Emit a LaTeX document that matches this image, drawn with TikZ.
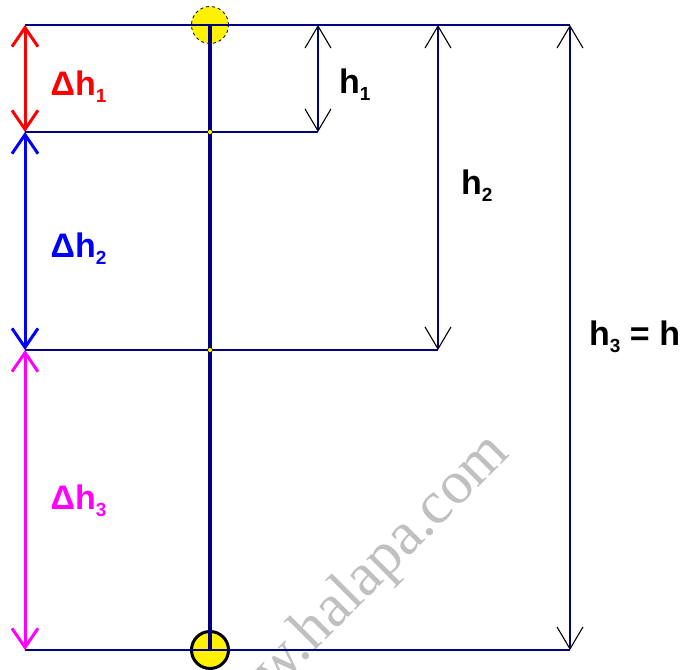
\documentclass[tikz,border=0pt]{standalone}
\usepackage{fontspec}
\setmainfont{Liberation Sans}
\newfontfamily\wmfont{Liberation Serif}
\usetikzlibrary{arrows.meta}
\definecolor{navyc}{RGB}{0,0,128}
\definecolor{magc}{RGB}{255,0,255}
\definecolor{redc}{RGB}{255,0,0}
\definecolor{bluec}{RGB}{0,0,255}
\definecolor{wmgray}{RGB}{192,192,192}
\newcommand\lbl[2]{#1\raisebox{-7pt}{\fontsize{19}{19}\selectfont #2}}
\begin{document}
\begin{tikzpicture}[x=1pt,y=-1pt,
  thinline/.style={draw=navyc,line width=1.2pt},
  dimarrow/.style={draw=navyc,line width=1.1pt,
    {Straight Barb[length=22pt,width=26pt,color=black,line width=1.1pt]}-{Straight Barb[length=22pt,width=26pt,color=black,line width=1.1pt]}},
  colarrow/.style={line width=3pt,
    {Straight Barb[length=19pt,width=26pt,line width=3pt]}-{Straight Barb[length=19pt,width=26pt,line width=3pt]}},
  pole/.style={draw=navyc,line width=3.6pt},
  ball/.style={circle,fill=yellow,inner sep=0pt},
  joint/.style={circle,fill=yellow,draw=black,line width=0.5pt,inner sep=0pt,minimum size=5pt},
  lab/.style={anchor=base west,inner sep=0pt,font=\fontsize{34}{34}\selectfont\bfseries},
  wm/.style={anchor=base west,inner sep=0pt,text=wmgray,font=\fontsize{61}{61}\selectfont\wmfont}
]
\useasboundingbox (0,0) rectangle (687,669);
\clip (0,0) rectangle (687,669);

% coordinates
\coordinate (T0) at (25,25);
\coordinate (T1) at (25,132);
\coordinate (T2) at (25,350);
\coordinate (T3) at (25,650);
\coordinate (P0) at (210,25);
\coordinate (P3) at (210,650);
\coordinate (A1t) at (318,25);
\coordinate (A1b) at (318,132);
\coordinate (A2t) at (438,25);
\coordinate (A2b) at (438,350);
\coordinate (A3t) at (570,25);
\coordinate (A3b) at (570,650);

% watermark
\node[wm,rotate=45] (wmark) at (212,754) {www.halapa.com};

% balls
\node[ball,draw=black,dashed,line width=0.8pt,minimum size=37pt] (ballT) at (P0) {};
\node[ball,draw=black,line width=3pt,minimum size=37pt] (ballB) at (P3) {};

% horizontal lines
\draw[thinline] (T0) -- (A3t);
\draw[thinline] (T1) -- (A1b);
\draw[thinline] (T2) -- (A2b);
\draw[thinline] (T3) -- (A3b);

% dimension arrows
\draw[dimarrow] (A1t) -- (A1b);
\draw[dimarrow] (A2t) -- (A2b);
\draw[dimarrow] (A3t) -- (A3b);

% coloured arrows
\draw[colarrow,redc] (T0) -- (T1);
\draw[colarrow,bluec] (T1) -- (T2);
\draw[colarrow,magc] (T2) -- (T3);

% pole
\draw[pole] (P0) -- (P3);
\node[joint] (J1) at (210,132) {};
\node[joint] (J2) at (210,350) {};

% labels
\node[lab,text=redc] (dh1) at (50.5,95) {\lbl{Δh}{1}};
\node[lab,text=bluec] (dh2) at (50.5,257) {\lbl{Δh}{2}};
\node[lab,text=magc] (dh3) at (50.5,509) {\lbl{Δh}{3}};
\node[lab] (h1) at (339,93) {\lbl{h}{1}};
\node[lab] (h2) at (461,194) {\lbl{h}{2}};
\node[lab] (h3) at (589,345) {\lbl{h}{3} = h};
\end{tikzpicture}
\end{document}
